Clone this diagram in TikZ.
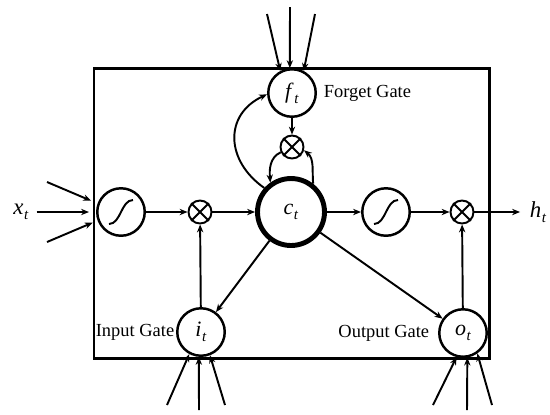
\documentclass[tikz,border=0pt]{standalone}
\usepackage{fontspec}
\setmainfont{Liberation Serif}
\usetikzlibrary{arrows.meta, positioning}

\newcommand{\gvar}[2]{\textit{#1}\kern0.3pt\raisebox{-0.5ex}{\fontsize{8.5}{9}\selectfont\textit{#2}}}

\begin{document}
\begin{tikzpicture}[
    x=0.02cm, y=-0.02cm,
    line width=1.1pt,
    >={Stealth[length=4.5pt,width=3.6pt]},
    every node/.style={font=\fontsize{10.5}{12}\selectfont},
    gate/.style={circle, draw, fill=white, line width=1.4pt, minimum size=0.95cm, inner sep=0pt, font=\fontsize{12.5}{14}\selectfont},
    cell/.style={circle, draw, fill=white, line width=2.8pt, minimum size=1.34cm, inner sep=0pt, font=\fontsize{12.5}{14}\selectfont},
    mult/.style={circle, draw, fill=white, line width=1.1pt, minimum size=0.46cm, inner sep=0pt},
    io/.style={font=\fontsize{13}{15}\selectfont, inner sep=1pt}
]
\useasboundingbox (0,0) rectangle (550,414);

% Cell border
\draw[line width=1.7pt] (94,68) rectangle (489,358);

% Nodes
\node[gate] (sigin) at (121,212) {};
\node[mult] (mulin) at (200,212) {};
\node[cell] (ct) at (291,212) {\gvar{c}{t}};
\node[gate] (sigout) at (386,212) {};
\node[mult] (mulout) at (462,212) {};
\node[gate] (ft) at (292,93) {\gvar{f}{t}};
\node[mult] (mulf) at (292,147) {};
\node[gate] (it) at (201,332) {\gvar{i}{t}};
\node[gate] (ot) at (463,333) {\gvar{o}{t}};
\node[io] (xt) at (21,212) {\gvar{x}{t}};
\node[io] (ht) at (538,212) {\gvar{h}{t}};

% Gate labels
\node[right=0pt of ft] (lforget) {Forget Gate};
\node[left=0pt of it, inner sep=0.5pt] (linput) {Input Gate};
\node[left=3.5pt of ot, inner sep=1pt] (loutput) {Output Gate};

% Symbols inside the circles
\foreach \s in {sigin, sigout}
  \draw ([shift={(-12,12)}]\s.center) .. controls ([shift={(0,12)}]\s.center) and ([shift={(0,-12)}]\s.center) .. ([shift={(12,-12)}]\s.center);
\foreach \m in {mulin, mulout, mulf}
  \draw (\m.north west) -- (\m.south east) (\m.north east) -- (\m.south west);

% Free ends of the inputs
\coordinate (xa) at (47,182);
\coordinate (xc) at (47,242);
\coordinate (fa) at (267,14);
\coordinate (fb) at (290,7);
\coordinate (fc) at (315,14);
\coordinate (ia) at (167,405);
\coordinate (ib) at (199,410);
\coordinate (ic) at (225,405);
\coordinate (oa) at (433,405);
\coordinate (ob) at (467,410);
\coordinate (oc) at (492,405);

% Arrows for the inputs
\draw[->, shorten >=4pt] (xa) -- (sigin.160);
\draw[->, shorten <=3pt, shorten >=4pt] (xt) -- (sigin);
\draw[->, shorten >=3pt] (xc) -- (sigin.200);
\draw[->] (fa) -- (ft.118);
\draw[->] (fb) -- (ft.95);
\draw[->] (fc) -- (ft.62);
\draw[->] (ia) -- (it.242);
\draw[->] (ib) -- (it.265);
\draw[->] (ic) -- (it.291);
\draw[->] (oa) -- (ot.255);
\draw[->] (ob) -- (ot.280);
\draw[->] (oc) -- (ot.305);

% Arrows along the main line
\draw[->] (sigin) -- (mulin);
\draw[->] (mulin) -- (ct);
\draw[->] (ct) -- (sigout);
\draw[->] (sigout) -- (mulout);
\draw[->, shorten >=4pt] (mulout) -- (ht);

% Arrows of the gates
\draw[->] (it) -- (mulin);
\draw[->] (ot) -- (mulout);
\draw[->] (ct) -- (it);
\draw[->] (ct) -- (ot);
\draw[->, line width=1.5pt] (ft) -- (mulf);

% Loops round the cell
\draw[->] (ct.138) to[out=145, in=205, looseness=1.3] (ft.183);
\draw[->] (ct.52) to[out=95, in=-40] (mulf.-15);
\draw[->] (mulf.205) to[out=205, in=95] (ct.125);

\end{tikzpicture}
\end{document}
